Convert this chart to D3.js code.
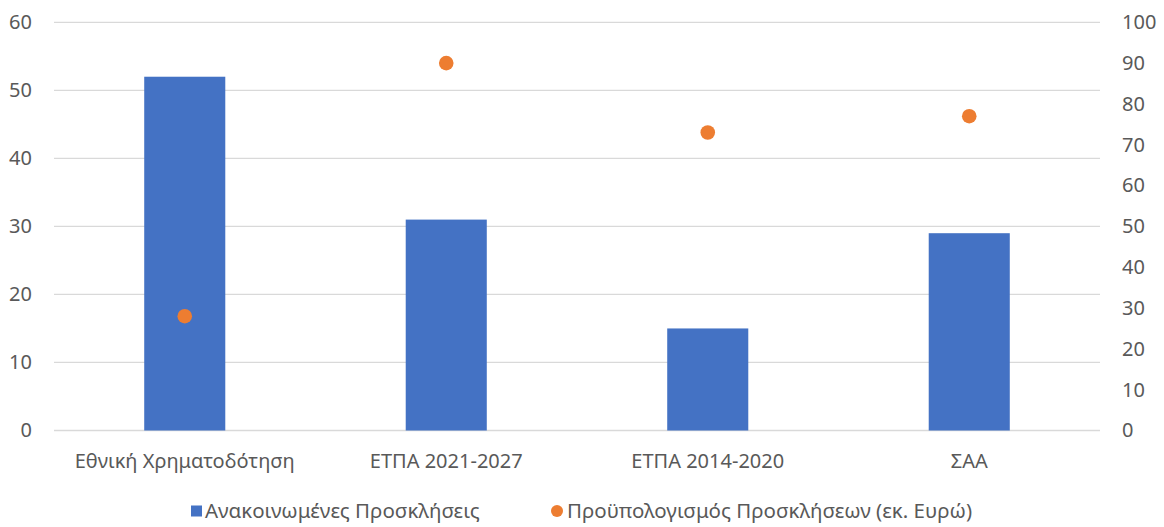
<!DOCTYPE html>
<html>
<head>
<meta charset="utf-8">
<script src="https://cdn.jsdelivr.net/npm/d3@7"></script>
<style>
  body { margin: 0; background: #fff; }
  svg text { font-family: "Noto Sans", sans-serif; fill: #595959; }
</style>
</head>
<body>
<svg id="chart" width="1164" height="527"></svg>
<script>
// data
const categories = ["Εθνική Χρηματοδότηση", "ΕΤΠΑ 2021-2027", "ΕΤΠΑ 2014-2020", "ΣΑΑ"];
const calls = [52, 31, 15, 29];          // Ανακοινωμένες Προσκλήσεις (left axis)
const budget = [28, 90, 73, 77];         // Προϋπολογισμός Προσκλήσεων (εκ. Ευρώ) (right axis)
const leftTicks = [0, 10, 20, 30, 40, 50, 60];
const rightTicks = [0, 10, 20, 30, 40, 50, 60, 70, 80, 90, 100];
const seriesNames = ["Ανακοινωμένες Προσκλήσεις", "Προϋπολογισμός Προσκλήσεων (εκ. Ευρώ)"];

const barColor = "#4472C4", dotColor = "#ED7D31", gridColor = "#D9D9D9";
const m = {top: 22.3, right: 64, bottom: 96.5, left: 54};
const width = 1164, height = 527;
const w = width - m.left - m.right, h = height - m.top - m.bottom;
const fs = "20px";

const svg = d3.select("#chart");
const g = svg.append("g").attr("transform", `translate(${m.left},${m.top})`);

const x = d3.scaleBand().domain(categories).range([0, w]).paddingInner(0.69).paddingOuter(0.345);
const yL = d3.scaleLinear().domain([0, 60]).range([h, 0]);
const yR = d3.scaleLinear().domain([0, 100]).range([h, 0]);

// gridlines
g.append("g").selectAll("line").data(leftTicks).join("line")
    .attr("x1", 0).attr("x2", w)
    .attr("y1", d => yL(d)).attr("y2", d => yL(d))
    .attr("stroke", gridColor).attr("stroke-width", 1.3);

// left axis labels
const axL = g.append("g").call(d3.axisLeft(yL).tickValues(leftTicks).tickSize(0).tickPadding(22));
axL.select(".domain").remove();
axL.selectAll("text").style("font-size", fs).attr("fill", "#595959");

// right axis labels
const axR = g.append("g").attr("transform", `translate(${w},0)`)
    .call(d3.axisRight(yR).tickValues(rightTicks).tickSize(0).tickPadding(22));
axR.select(".domain").remove();
axR.selectAll("text").style("font-size", fs).attr("fill", "#595959");

// category labels
const axX = g.append("g").attr("transform", `translate(0,${h})`)
    .call(d3.axisBottom(x).tickSize(0).tickPadding(23));
axX.select(".domain").remove();
axX.selectAll("text").style("font-size", fs).attr("fill", "#595959");

// bars
g.append("g").selectAll("rect").data(categories).join("rect")
    .attr("x", d => x(d))
    .attr("width", x.bandwidth())
    .attr("y", (d, i) => yL(calls[i]))
    .attr("height", (d, i) => h - yL(calls[i]))
    .attr("fill", barColor);

// dots
g.append("g").selectAll("circle").data(categories).join("circle")
    .attr("cx", d => x(d) + x.bandwidth() / 2)
    .attr("cy", (d, i) => yR(budget[i]))
    .attr("r", 7.3)
    .attr("fill", dotColor);

// legend
const lg = svg.append("g").attr("transform", "translate(0,511)");
lg.append("rect").attr("x", 191).attr("y", -5.5).attr("width", 11).attr("height", 11).attr("fill", barColor);
lg.append("text").attr("x", 205).attr("dy", "0.35em").style("font-size", "20.5px").text(seriesNames[0]);
lg.append("circle").attr("cx", 557).attr("cy", 0).attr("r", 6).attr("fill", dotColor);
lg.append("text").attr("x", 567).attr("dy", "0.35em").style("font-size", "20.5px").text(seriesNames[1]);
</script>
</body>
</html>
